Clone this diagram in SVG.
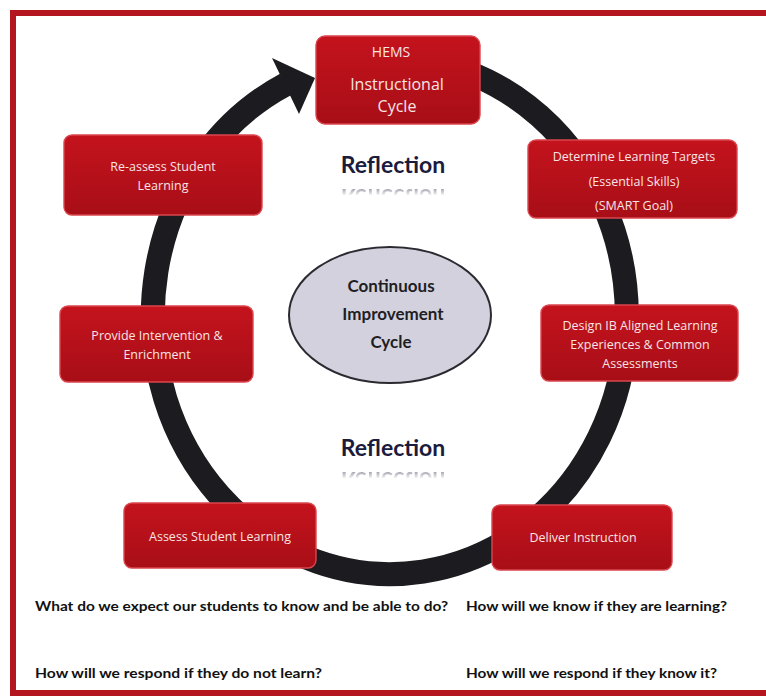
<svg xmlns="http://www.w3.org/2000/svg" width="766" height="697" viewBox="0 0 766 697">
  <style>
    .box { fill: url(#boxFill); stroke: #d9464d; stroke-width: 1.4; }
    .boxText { font-family: "Open Sans", "DejaVu Sans", sans-serif; font-size: 12.5px; fill: #f6e4e4; text-anchor: middle; }
    .hemsText { font-family: "Open Sans", "DejaVu Sans", sans-serif; fill: #f6e4e4; text-anchor: middle; }
    .hub { fill: #d3d1de; stroke: #2a2a30; stroke-width: 2; }
    .hubText { font-family: Lato, "Liberation Sans", sans-serif; font-weight: bold; font-size: 17px; fill: #1e1e24; text-anchor: middle; }
    .refl { font-family: Lato, "Liberation Sans", sans-serif; font-weight: bold; font-size: 23px; fill: #1b1b3d; text-anchor: middle; }
    .question { font-family: Lato, "Liberation Sans", sans-serif; font-weight: bold; font-size: 13px; fill: #111111; }
    .ring { fill: none; stroke: #1b1b20; stroke-width: 24; }
  </style>
  <defs>
    <linearGradient id="boxFill" x1="0" y1="0" x2="0" y2="1">
      <stop offset="0" stop-color="#c4131d"/>
      <stop offset="1" stop-color="#a80e17"/>
    </linearGradient>
    <linearGradient id="fade" x1="0" y1="0" x2="0" y2="1">
      <stop offset="0" stop-color="#ffffff" stop-opacity="0.85"/>
      <stop offset="1" stop-color="#ffffff" stop-opacity="0.05"/>
    </linearGradient>
    <mask id="fadeTop" maskUnits="userSpaceOnUse" x="300" y="181" width="180" height="20">
      <rect x="300" y="181" width="180" height="14" fill="url(#fade)"/>
    </mask>
    <mask id="fadeBottom" maskUnits="userSpaceOnUse" x="300" y="464" width="180" height="20">
      <rect x="300" y="464" width="180" height="14" fill="url(#fade)"/>
    </mask>
  </defs>

  <!-- page background and red frame -->
  <rect x="0" y="0" width="766" height="697" fill="#ffffff"/>
  <rect x="13" y="13" width="770" height="680" fill="none" stroke="#b3161f" stroke-width="6"/>

  <!-- circular flow arrow around the cycle -->
  <g id="connectors">
    <path class="ring" d="M 431 62 A 237 258 0 1 1 285.7 84.3"/>
    <polygon points="272,58 315,78 299,114" fill="#1b1b20"/>
  </g>

  <!-- central hub -->
  <g id="hub">
    <ellipse class="hub" cx="390" cy="315" rx="101" ry="68"/>
    <text class="hubText" x="391" y="292">Continuous</text>
    <text class="hubText" x="393" y="320">Improvement</text>
    <text class="hubText" x="391" y="348">Cycle</text>
  </g>

  <!-- reflection labels with mirrored echo -->
  <g id="reflection-top">
    <text class="refl" x="393" y="173">Reflection</text>
    <g mask="url(#fadeTop)">
      <text class="refl" x="393" y="173" transform="translate(0,362) scale(1,-1)" fill="#5a5f80">Reflection</text>
    </g>
  </g>
  <g id="reflection-bottom">
    <text class="refl" x="393" y="456">Reflection</text>
    <g mask="url(#fadeBottom)">
      <text class="refl" x="393" y="456" transform="translate(0,928) scale(1,-1)" fill="#5a5f80">Reflection</text>
    </g>
  </g>

  <!-- cycle steps -->
  <g id="hems">
    <rect class="box" x="316" y="36" width="164" height="88" rx="9"/>
    <text class="hemsText" x="391" y="57" font-size="14">HEMS</text>
    <text class="hemsText" x="397" y="90" font-size="16">Instructional</text>
    <text class="hemsText" x="397" y="112" font-size="16">Cycle</text>
  </g>

  <g id="determine">
    <rect class="box" x="528" y="140" width="209" height="78" rx="8"/>
    <text class="boxText" x="634" y="161">Determine Learning Targets</text>
    <text class="boxText" x="634" y="186">(Essential Skills)</text>
    <text class="boxText" x="634" y="210">(SMART Goal)</text>
  </g>

  <g id="design">
    <rect class="box" x="541" y="305" width="197" height="76" rx="8"/>
    <text class="boxText" x="640" y="330">Design IB Aligned Learning</text>
    <text class="boxText" x="640" y="349">Experiences &amp; Common</text>
    <text class="boxText" x="640" y="368">Assessments</text>
  </g>

  <g id="deliver">
    <rect class="box" x="492" y="505" width="180" height="65" rx="8"/>
    <text class="boxText" x="583" y="542">Deliver Instruction</text>
  </g>

  <g id="assess">
    <rect class="box" x="124" y="503" width="192" height="65" rx="8"/>
    <text class="boxText" x="220" y="541">Assess Student Learning</text>
  </g>

  <g id="intervene">
    <rect class="box" x="60" y="306" width="193" height="76" rx="8"/>
    <text class="boxText" x="157" y="340">Provide Intervention &amp;</text>
    <text class="boxText" x="157" y="359">Enrichment</text>
  </g>

  <g id="reassess">
    <rect class="box" x="64" y="135" width="198" height="80" rx="8"/>
    <text class="boxText" x="163" y="171">Re-assess Student</text>
    <text class="boxText" x="163" y="190">Learning</text>
  </g>

  <!-- guiding questions -->
  <g id="questions">
    <text class="question" x="35" y="611" textLength="413" lengthAdjust="spacingAndGlyphs">What do we expect our students to know and be able to do?</text>
    <text class="question" x="466" y="611" textLength="261" lengthAdjust="spacingAndGlyphs">How will we know if they are learning?</text>
    <text class="question" x="35" y="678" textLength="287" lengthAdjust="spacingAndGlyphs">How will we respond if they do not learn?</text>
    <text class="question" x="466" y="678" textLength="251" lengthAdjust="spacingAndGlyphs">How will we respond if they know it?</text>
  </g>
</svg>
